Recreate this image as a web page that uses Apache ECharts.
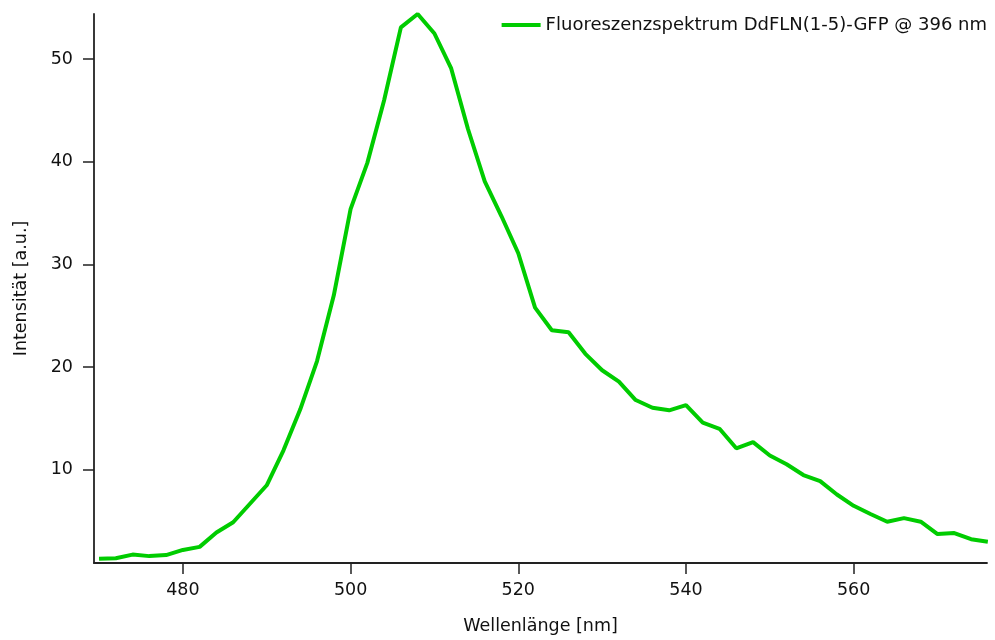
<!DOCTYPE html>
<html>
<head>
<meta charset="utf-8">
<script src="https://cdn.jsdelivr.net/npm/echarts@6/dist/echarts.min.js"></script>
<style>
  html, body { margin: 0; padding: 0; background: #fff; }
  #chart { width: 995px; height: 640px; }
</style>
</head>
<body>
<div id="chart"></div>
<script>
// Wellenlängen in nm
var wavelengths = [470, 472, 474, 476, 478, 480, 482, 484, 486, 488,
    490, 492, 494, 496, 498, 500, 502, 504, 506, 508,
    510, 512, 514, 516, 518, 520, 522, 524, 526, 528,
    530, 532, 534, 536, 538, 540, 542, 544, 546, 548,
    550, 552, 554, 556, 558, 560, 562, 564, 566, 568,
    570, 572, 574, 576];
// Intensität [a.u.]
var intensity = [1.35, 1.4, 1.75, 1.6, 1.7, 2.2, 2.5, 3.9, 4.9, 6.7,
    8.5, 11.9, 15.9, 20.6, 27.0, 35.4, 39.9, 46.0, 53.1, 54.4,
    52.5, 49.1, 43.2, 38.1, 34.7, 31.1, 25.8, 23.6, 23.4, 21.3,
    19.7, 18.6, 16.8, 16.05, 15.8, 16.3, 14.6, 14.0, 12.1, 12.7,
    11.4, 10.55, 9.5, 8.9, 7.6, 6.5, 5.7, 4.95, 5.3, 4.95,
    3.75, 3.85, 3.25, 3.0];
var xTicks = [480, 500, 520, 540, 560];
var yTicks = [10, 20, 30, 40, 50];

var seriesData = [];
for (var i = 0; i < wavelengths.length; i++) {
    seriesData.push([wavelengths[i], intensity[i]]);
}

var fontFam = 'DejaVu Sans';
var myChart = echarts.init(document.getElementById('chart'));
var option = {
    animation: false,
    textStyle: {fontFamily: fontFam},
    grid: {
        left: 94,
        right: 8,
        top: 14,
        bottom: 76
    },
    legend: {
        right: 3,
        top: 11,
        icon: 'rect',
        itemWidth: 39,
        itemHeight: 4,
        textStyle: {fontFamily: fontFam, fontSize: 18, color: '#111'},
        data: ['Fluoreszenzspektrum DdFLN(1-5)-GFP @ 396 nm']
    },
    xAxis: {
        type: 'value',
        min: 469.4,
        max: 575.9,
        name: 'Wellenlänge [nm]',
        nameLocation: 'middle',
        nameGap: 54,
        nameTextStyle: {fontFamily: fontFam, fontSize: 17.5, color: '#111'},
        splitLine: {show: false},
        axisLine: {onZero: false, lineStyle: {color: '#222', width: 1.8}},
        axisTick: {
            inside: false,
            length: 11,
            customValues: xTicks,
            lineStyle: {color: '#222', width: 1.5}
        },
        axisLabel: {
            customValues: xTicks,
            margin: 18,
            fontFamily: fontFam,
            fontSize: 17.5,
            color: '#111'
        }
    },
    yAxis: {
        type: 'value',
        min: 0.93,
        max: 54.4,
        name: 'Intensität [a.u.]',
        nameLocation: 'middle',
        nameGap: 64,
        nameTextStyle: {fontFamily: fontFam, fontSize: 17.5, color: '#111'},
        splitLine: {show: false},
        axisLine: {onZero: false, lineStyle: {color: '#222', width: 1.8}},
        axisTick: {
            inside: false,
            length: 11,
            customValues: yTicks,
            lineStyle: {color: '#222', width: 1.5}
        },
        axisLabel: {
            customValues: yTicks,
            margin: 21,
            fontFamily: fontFam,
            fontSize: 17.5,
            color: '#111'
        }
    },
    series: [
        {
            name: 'Fluoreszenzspektrum DdFLN(1-5)-GFP @ 396 nm',
            type: 'line',
            showSymbol: false,
            symbol: 'none',
            data: seriesData,
            itemStyle: {color: '#00cc00'},
            lineStyle: {color: '#00cc00', width: 4}
        }
    ]
};
myChart.setOption(option);
</script>
</body>
</html>
